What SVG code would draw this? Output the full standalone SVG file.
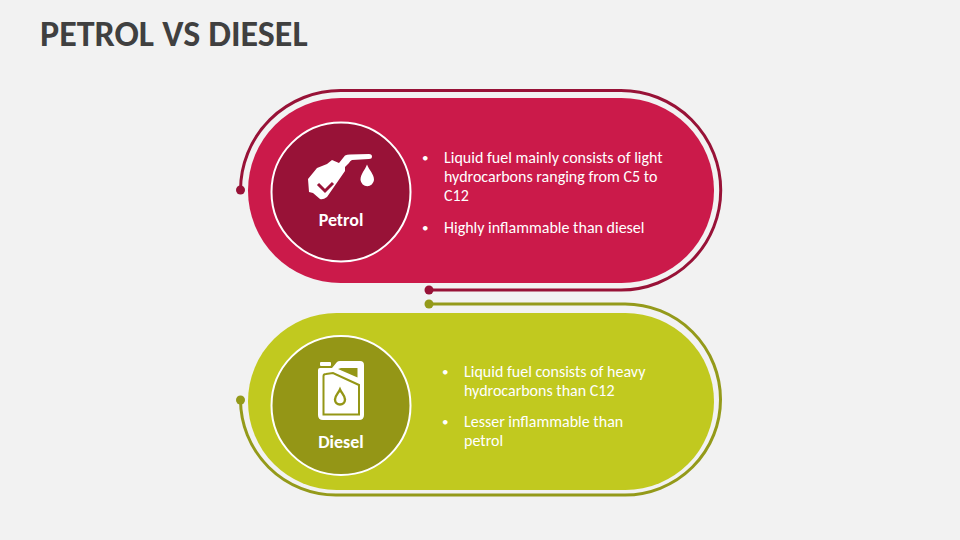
<svg xmlns="http://www.w3.org/2000/svg" width="960" height="540" viewBox="0 0 960 540">
<style>
text{font-family:Carlito,Lato,"Open Sans",sans-serif}
.t{font-size:16px;fill:#fff}
.b{font-size:13px;fill:#fff}
.l{font-size:18px;font-weight:700;fill:#fff;text-anchor:middle}
.c{fill:none;stroke-width:3}
.r{stroke:#fff;stroke-width:2}
</style>
<rect width="960" height="540" fill="#f2f2f2"/>
<text id="title" x="40" y="46" font-size="36" font-weight="700" fill="#404040">PETROL VS DIESEL</text>
<g id="petrol">
<rect x="248" y="98" width="466" height="185" rx="92.500" fill="#cb1a4a"/>
<circle class="r" cx="341" cy="192" r="69.500" fill="#981237"/>
<g id="pump-icon" fill="#fff">
<path d="M308 179L317 168L327 164L332 160L339 163L345 155.500Q347 154.500 350 154.500L369 154Q372 154 372 156.500Q372 159 369 159L352 160Q350 161 349 163L345 167L345 171L327 197Q323 200 320 199L313 193L309 192Z"/>
<path d="M367 164.500C365 170 360.500 174 360.500 180A6.800 7 0 0 0 374 180C374 174 369 170 367 164.500Z"/>
</g>
<path d="M318 184L325 191L333 183" fill="none" stroke="#981237" stroke-width="3"/>
<text class="l" x="341" y="226">Petrol</text>
<text class="b" x="422" y="162">•</text>
<text class="t" x="444" y="163">Liquid fuel mainly consists of light</text>
<text class="t" x="444" y="182">hydrocarbons ranging from C5 to</text>
<text class="t" x="444" y="201">C12</text>
<text class="b" x="422" y="232">•</text>
<text class="t" x="444" y="233">Highly inflammable than diesel</text>
</g>
<g id="diesel">
<rect x="248" y="313" width="466" height="177" rx="88.500" fill="#c1c91f"/>
<circle class="r" cx="341" cy="405.500" r="69.500" fill="#949616"/>
<g id="can-icon">
<path fill="#fff" d="M321 362H330Q331 362 331 363V365Q331 366 330 366H321Q320 366 320 365V363Q320 362 321 362Z"/>
<path fill="#fff" d="M318 370Q318 368 320 368H332L337 362Q338 361 340 361H360Q364 361 364 365V415Q364 420 359 420H323Q318 420 318 415Z"/>
<path fill="#949616" d="M338 369L341 368H357.500V377.500Z"/>
<path fill="none" stroke="#949616" stroke-width="2" d="M323.500 376Q323.500 374 326 374L333 373L359 385V414.500H323.500Z"/>
<path fill="none" stroke="#949616" stroke-width="2.400" d="M340 389.500C338.500 393 335 395.500 335 399.500A5 5 0 0 0 345 399.500C345 395.500 341.500 393 340 389.500Z"/>
</g>
<text class="l" x="341" y="448">Diesel</text>
<text class="b" x="442" y="376">•</text>
<text class="t" x="464" y="377">Liquid fuel consists of heavy</text>
<text class="t" x="464" y="396">hydrocarbons than C12</text>
<text class="b" x="442" y="426">•</text>
<text class="t" x="464" y="427">Lesser inflammable than</text>
<text class="t" x="464" y="446">petrol</text>
</g>
<g id="connectors">
<path class="c" stroke="#981237" d="M240.500 190A100 100 0 0 1 340.500 90.500H621A99.500 99.500 0 0 1 621 290H429"/>
<circle cx="240.500" cy="190" r="4.500" fill="#981237"/>
<circle cx="429" cy="290" r="4.500" fill="#981237"/>
<path class="c" stroke="#949a1a" d="M429 304H625A95.500 95.500 0 0 1 625 495H336A95.500 95.500 0 0 1 240.500 400"/>
<circle cx="429" cy="304" r="4.500" fill="#949a1a"/>
<circle cx="240.500" cy="400" r="4.500" fill="#949a1a"/>
</g>
</svg>
